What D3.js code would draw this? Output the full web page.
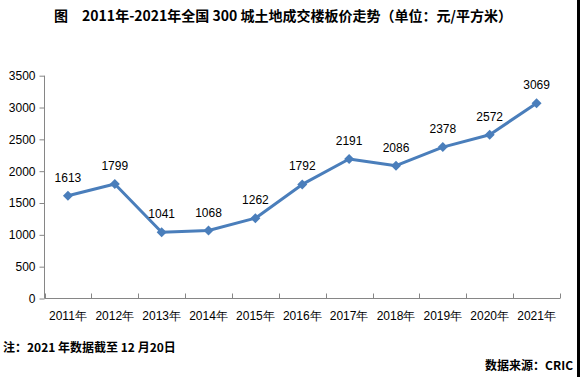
<!DOCTYPE html>
<html><head><meta charset="utf-8">
<script src="https://cdn.jsdelivr.net/npm/d3@7"></script>
<style>body{margin:0;background:#fff}svg{display:block}</style>
</head><body>
<svg id="c" width="580" height="377"></svg>
<script>
const years = ["2011年","2012年","2013年","2014年","2015年","2016年","2017年","2018年","2019年","2020年","2021年"];
const prices = [1613,1799,1041,1068,1262,1792,2191,2086,2378,2572,3069];
const yTicks = [0,500,1000,1500,2000,2500,3000,3500];
const titleText = "图　2011年-2021年全国 300 城土地成交楼板价走势（单位：元/平方米）";
const noteText = "注：2021 年数据截至 12 月20日";
const sourceText = "数据来源：CRIC";

const svg = d3.select("#c");
const W = 580, H = 377;
svg.append("rect").attr("width",W).attr("height",H).attr("fill","#fff");
svg.append("rect").attr("x",577).attr("y",0).attr("width",3).attr("height",H).attr("fill","#000");

const x = d3.scaleBand().domain(years).range([44.5,560]).padding(0);
const y = d3.scaleLinear().domain([0,3500]).range([298.5,75.7]);
const axisColor = "#868686";
const font = "'Liberation Sans', Arial, sans-serif";

svg.append("text").attr("x",283).attr("y",21).attr("text-anchor","middle")
  .attr("font-family","'Noto Sans CJK SC', sans-serif").attr("font-weight","bold")
  .attr("font-size",14).attr("fill","#000").text(titleText);

// y axis
const ya = svg.append("g").attr("transform","translate(44.5,0)")
  .call(d3.axisLeft(y).tickValues(yTicks).tickSize(5).tickPadding(4).tickFormat(d3.format("d")));
ya.select(".domain").attr("stroke",axisColor).attr("d",`M-0,${y(3500)}V${y(0)}`);
ya.selectAll(".tick line").attr("stroke",axisColor);
ya.selectAll(".tick text").attr("font-family",font).attr("font-size",12).attr("fill","#000");

// x axis
const xa = svg.append("g").attr("transform",`translate(0,${y(0)})`);
xa.append("line").attr("x1",x.range()[0]).attr("x2",x.range()[1]).attr("y1",0).attr("y2",0).attr("stroke",axisColor);
const bounds = years.map(d=>x(d)).concat([x.range()[1]]);
xa.selectAll("line.t").data(bounds).enter().append("line").attr("class","t")
  .attr("x1",d=>Math.round(d)+0.5).attr("x2",d=>Math.round(d)+0.5).attr("y1",0).attr("y2",-5).attr("stroke",axisColor);
xa.selectAll("text").data(years).enter().append("text")
  .attr("x",d=>x(d)+x.bandwidth()/2).attr("y",21).attr("text-anchor","middle")
  .attr("font-family",font).attr("font-size",12).attr("fill","#000").text(d=>d);

// line
const pts = years.map((d,i)=>[x(d)+x.bandwidth()/2, y(prices[i])]);
const lineColor = "#4a7ebb";
svg.append("path").attr("d",d3.line()(pts)).attr("fill","none").attr("stroke",lineColor)
  .attr("stroke-width",3).attr("stroke-linejoin","round");
svg.selectAll("path.m").data(pts).enter().append("path").attr("class","m")
  .attr("transform",d=>`translate(${d[0]},${d[1]})`)
  .attr("d","M0,-5L5,0L0,5L-5,0Z").attr("fill",lineColor);
svg.selectAll("text.lbl").data(pts).enter().append("text").attr("class","lbl")
  .attr("x",d=>d[0]).attr("y",d=>d[1]-14).attr("text-anchor","middle")
  .attr("font-family",font).attr("font-size",12).attr("fill","#000").text((d,i)=>prices[i]);

svg.append("text").attr("x",3).attr("y",352).attr("font-family","'Noto Sans CJK SC', sans-serif")
  .attr("font-weight","bold").attr("font-size",12).attr("fill","#000").text(noteText);
svg.append("text").attr("x",573).attr("y",370).attr("text-anchor","end").attr("font-family","'Noto Sans CJK SC', sans-serif")
  .attr("font-weight","bold").attr("font-size",12).attr("fill","#000").text(sourceText);
</script>
</body></html>
